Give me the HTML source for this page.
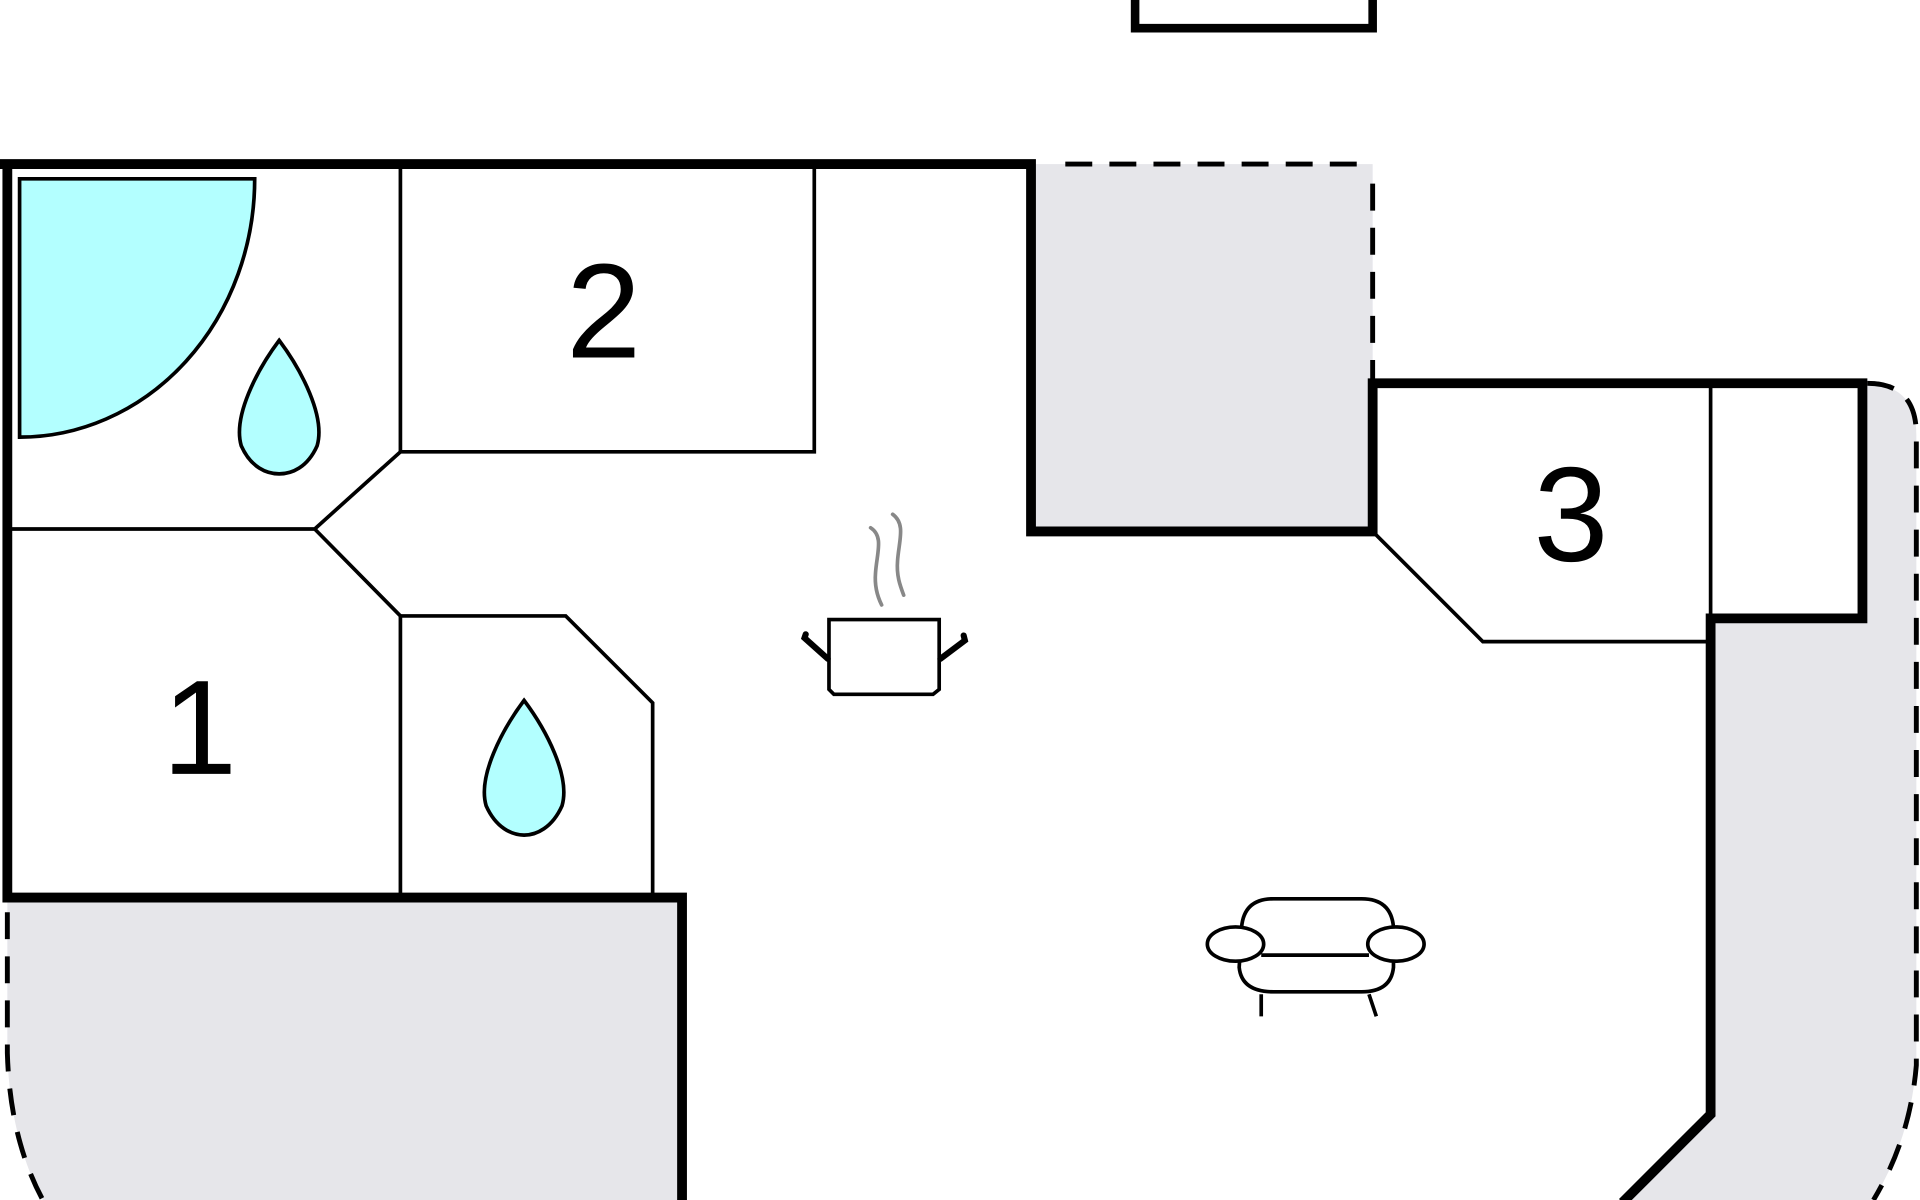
<!DOCTYPE html>
<html><head><style>html,body{margin:0;padding:0;background:#fff;overflow:hidden}svg{display:block}</style></head>
<body>
<svg width="1920" height="1200" viewBox="0 0 1568 980" xmlns="http://www.w3.org/2000/svg">
<rect width="1568" height="980" fill="#fff"/>
<rect x="842" y="134" width="279" height="300" fill="#e6e6ea"/>
<path d="M1521,313 Q1565,313 1565,355 L1565,870 Q1560,930 1530,980 L1325,980 L1397,910 L1397,505 L1521,505 Z" fill="#e6e6ea"/>
<path d="M6,733 L557,733 L557,980 L35,980 Q8,930 6,860 Z" fill="#e6e6ea"/>
<g fill="none" stroke="#000" stroke-width="4" stroke-dasharray="22,14">
<path d="M870,134 L1116,134"/>
<path d="M1121,150 L1121,313"/>
<path d="M1525,313 Q1565,313 1565,355 L1565,870 Q1560,930 1530,980"/>
<path d="M6,745 L6,860 Q8,930 35,980"/>
</g>
<path d="M927,-5 L927,23 L1121,23 L1121,-5" fill="none" stroke="#000" stroke-width="7"/>
<path d="M16,146 L208,146 A192,211 0 0 1 16,357 Z" fill="#b3ffff" stroke="#000" stroke-width="3"/>
<g fill="none" stroke="#000" stroke-width="3">
<path d="M327,134 L327,369 L665,369 L665,134"/>
<path d="M327,369 L257,432 L6,432"/>
<path d="M257,432 L327,503 L327,733"/>
<path d="M327,503 L462,503 L533,574 L533,733"/>
<path d="M1121,434 L1211,524 L1397,524"/>
<path d="M1397,313 L1397,505"/>
</g>
<g fill="none" stroke="#000" stroke-width="8" stroke-linejoin="miter">
<path d="M0,134 L842,134 L842,434 L1121,434 L1121,313 L1521,313 L1521,505 L1397,505 L1397,910 L1325,982"/>
<path d="M6,134 L6,733 L557,733 L557,985"/>
</g>
<g fill="#b3ffff" stroke="#000" stroke-width="3">
<path d="M228,278 C210,302 190,340 197,364 C205,382 218,387 228,387 C238,387 251,382 259,364 C266,340 246,302 228,278 Z"/>
<path d="M428,572 C410,596 390,634 397,658 C405,676 418,682 428,682 C438,682 451,676 459,658 C466,634 446,596 428,572 Z"/>
</g>
<g font-family="Liberation Sans, sans-serif" font-size="110" text-anchor="middle" fill="#000">
<text x="493" y="292">2</text>
<text x="163" y="632">1</text>
<text x="1283" y="458">3</text>
</g>
<g fill="none" stroke="#000" stroke-width="3">
<path d="M677,506 L767,506 L767,563 L762,567 L681,567 L677,563 Z"/>
</g>
<g fill="none" stroke="#000" stroke-width="5" stroke-linecap="round">
<path d="M676,538 L657,521 L658,518"/>
<path d="M768,538 L788,523 L787,519"/>
</g>
<g fill="none" stroke="#888" stroke-width="3" stroke-linecap="round">
<path d="M711,431 C722,438 716,452 715,468 C714,480 717,488 720,494"/>
<path d="M729,420 C740,428 734,442 733,458 C732,470 735,478 738,486"/>
</g>
<g fill="#fff" stroke="#000" stroke-width="3">
<path d="M1030,812 L1030,830 M1118,812 L1124,830"/>
<path d="M1014,757 Q1016,734 1040,734 L1112,734 Q1136,734 1138,757 L1138,790 Q1136,810 1112,810 L1040,810 Q1014,810 1012,790 Z"/>
<path d="M1030,780 L1118,780"/>
<ellipse cx="1009" cy="771" rx="23" ry="14"/>
<ellipse cx="1140" cy="771" rx="23" ry="14"/>
</g>
</svg>
</body></html>
